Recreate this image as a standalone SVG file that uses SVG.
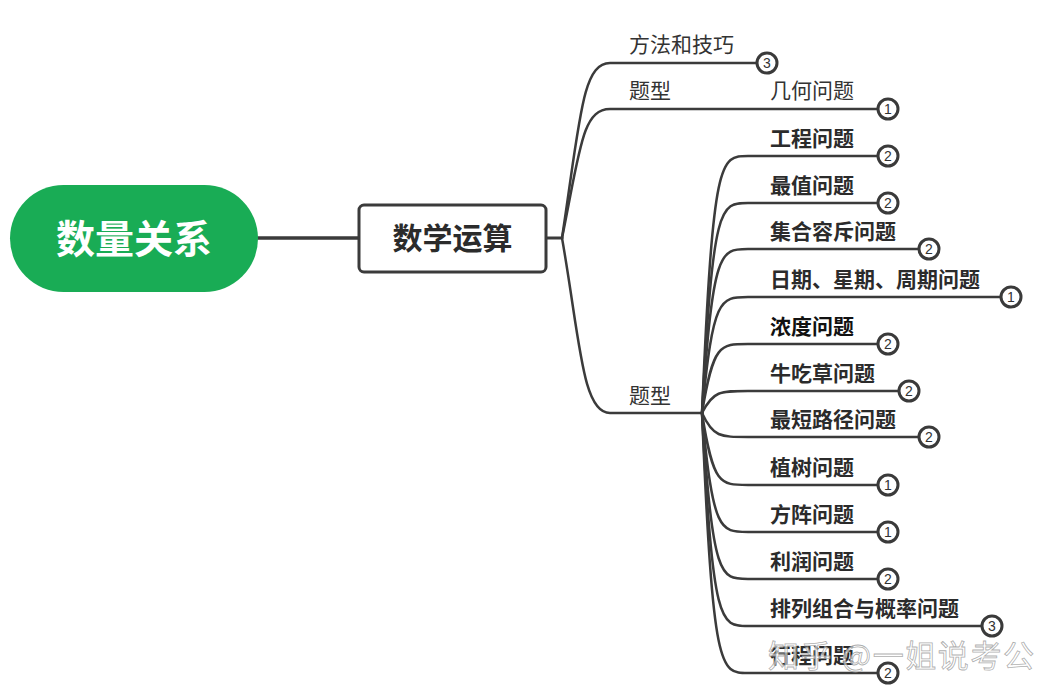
<svg xmlns="http://www.w3.org/2000/svg" width="1060" height="698" viewBox="0 0 1060 698">
<style>
.ln{fill:none;stroke:#3b3b3b;stroke-width:2.5;stroke-linecap:round}
.t{font-family:"Noto Sans CJK SC","Liberation Sans",sans-serif;font-size:21px;fill:#333}
.b{font-weight:bold;fill:#2b2b2b}
.c circle{fill:#fff;stroke:#3a3a3a;stroke-width:3}
.c text{font-family:"Liberation Sans",sans-serif;font-size:14px;fill:#333;text-anchor:middle}
</style>
<rect width="1060" height="698" fill="#fff"/>
<g id="connectors">
<path class="ln" d="M258,238 H359" style="stroke-width:3.5"/>
<path class="ln" d="M546,238 H562" style="stroke-width:3"/>
<path class="ln" d="M562,238 C580,120 582,63 610,63 H757"/>
<path class="ln" d="M562,238 C580,150 582,109 610,109 H878"/>
<path class="ln" d="M562,238 C580,340 582,413 610,413 H702"/>
<path class="ln" d="M702,413 C713,156 720,156 748,156 H878"/>
<path class="ln" d="M702,413 C713,203 720,203 748,203 H878"/>
<path class="ln" d="M702,413 C713,249 720,249 748,249 H919"/>
<path class="ln" d="M702,413 C713,297 720,297 748,297 H1001"/>
<path class="ln" d="M702,413 C713,344 720,344 748,344 H878"/>
<path class="ln" d="M702,413 C713,391 720,391 748,391 H899"/>
<path class="ln" d="M702,413 C713,437 720,437 748,437 H919"/>
<path class="ln" d="M702,413 C713,485 720,485 748,485 H878"/>
<path class="ln" d="M702,413 C713,532 720,532 748,532 H878"/>
<path class="ln" d="M702,413 C713,579 720,579 748,579 H878"/>
<path class="ln" d="M702,413 C713,626 720,626 748,626 H982"/>
<path class="ln" d="M702,413 C713,673 720,673 748,673 H878"/>
</g>
<g id="root">
<rect x="10" y="185" width="248" height="107" rx="53.5" fill="#19ac55"/>
<text x="134" y="253" text-anchor="middle" font-family="'Noto Sans CJK SC','Liberation Sans',sans-serif" font-size="39" font-weight="bold" fill="#fff">数量关系</text>
</g>
<g id="main">
<rect x="359" y="205" width="187" height="67" rx="5" fill="#fff" stroke="#3b3b3b" stroke-width="3"/>
<text x="452.5" y="249" text-anchor="middle" font-family="'Noto Sans CJK SC','Liberation Sans',sans-serif" font-size="30" font-weight="bold" fill="#2b2b2b">数学运算</text>
</g>
<g id="n-fangfa"><text class="t" x="629" y="52">方法和技巧</text><g class="c"><circle cx="767" cy="63" r="10"/><text x="767" y="68">3</text></g></g>
<g id="n-tixing1"><text class="t" x="629" y="98">题型</text></g>
<g id="n-jihe"><text class="t" x="770" y="98">几何问题</text><g class="c"><circle cx="888" cy="109" r="10"/><text x="888" y="114">1</text></g></g>
<g id="n-tixing2"><text class="t" x="629" y="403">题型</text></g>
<g id="n-gongcheng"><text class="t b" x="770" y="146">工程问题</text><g class="c"><circle cx="888" cy="156" r="10"/><text x="888" y="161">2</text></g></g>
<g id="n-zuizhi"><text class="t b" x="770" y="193">最值问题</text><g class="c"><circle cx="888" cy="203" r="10"/><text x="888" y="208">2</text></g></g>
<g id="n-jihe2"><text class="t b" x="770" y="239">集合容斥问题</text><g class="c"><circle cx="929" cy="249" r="10"/><text x="929" y="254">2</text></g></g>
<g id="n-riqi"><text class="t b" x="770" y="287">日期、星期、周期问题</text><g class="c"><circle cx="1011" cy="297" r="10"/><text x="1011" y="302">1</text></g></g>
<g id="n-nongdu"><text class="t b" x="770" y="334" style="fill:#111">浓度问题</text><g class="c"><circle cx="888" cy="344" r="10"/><text x="888" y="349">2</text></g></g>
<g id="n-niu"><text class="t b" x="770" y="381">牛吃草问题</text><g class="c"><circle cx="909" cy="391" r="10"/><text x="909" y="396">2</text></g></g>
<g id="n-zuiduan"><text class="t b" x="770" y="427">最短路径问题</text><g class="c"><circle cx="929" cy="437" r="10"/><text x="929" y="442">2</text></g></g>
<g id="n-zhishu"><text class="t b" x="770" y="475">植树问题</text><g class="c"><circle cx="888" cy="485" r="10"/><text x="888" y="490">1</text></g></g>
<g id="n-fangzhen"><text class="t b" x="770" y="522">方阵问题</text><g class="c"><circle cx="888" cy="532" r="10"/><text x="888" y="537">1</text></g></g>
<g id="n-lirun"><text class="t b" x="770" y="569">利润问题</text><g class="c"><circle cx="888" cy="579" r="10"/><text x="888" y="584">2</text></g></g>
<g id="n-pailie"><text class="t b" x="770" y="616">排列组合与概率问题</text><g class="c"><circle cx="992" cy="626" r="10"/><text x="992" y="631">3</text></g></g>
<g id="n-xingcheng"><text class="t b" x="770" y="663">行程问题</text><g class="c"><circle cx="888" cy="673" r="10"/><text x="888" y="678">2</text></g></g>
<g id="watermark"><text x="768" y="667" font-family="'Noto Sans CJK SC','Liberation Sans',sans-serif" font-size="31" fill="#fff" fill-opacity="0.6" stroke="#999" stroke-width="0.8" stroke-opacity="0.8" textLength="266" lengthAdjust="spacing">知乎 @一姐说考公</text></g>
</svg>
